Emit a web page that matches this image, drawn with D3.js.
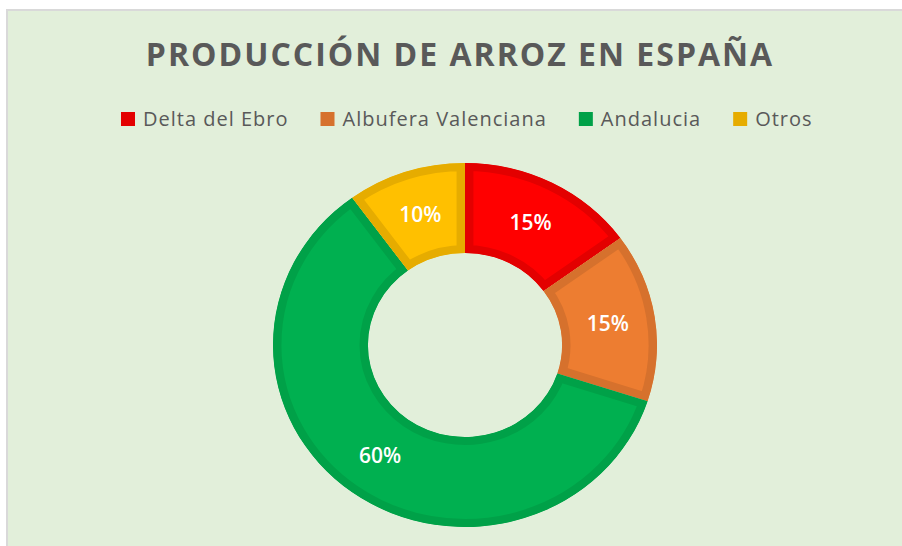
<!DOCTYPE html>
<html>
<head>
    <meta charset="utf-8">
    <title>Producción de arroz en España</title>
    <script src="https://d3js.org/d3.v7.min.js"></script>
    <style>
        body { margin: 0; background: #fff; }
        svg text { font-family: "Open Sans", "DejaVu Sans", sans-serif; }
    </style>
</head>
<body>
    <svg id="chart" width="902" height="546"></svg>
    <script>
        // Data
        var regions = ["Delta del Ebro", "Albufera Valenciana", "Andalucia", "Otros"];
        var shares = [15, 15, 60, 10];
        var fills = ["#FF0000", "#ED7D31", "#00B050", "#FFC000"];
        var borders = ["#E30000", "#D6712D", "#00A148", "#E6AC00"];

        var width = 902, height = 546;
        var cx = 465, cy = 345;
        var outerR = 182, innerR = 92;
        var stretch = 1.055; // picture is a bit wider than tall

        var svg = d3.select("#chart");

        // chart area + thin border top/left
        svg.append("rect")
            .attr("x", 7).attr("y", 10)
            .attr("width", width).attr("height", height)
            .attr("fill", "#E2EFDA")
            .attr("stroke", "#D9D9D9")
            .attr("stroke-width", 2);

        // Title
        svg.append("text")
            .attr("x", 460).attr("y", 66)
            .attr("text-anchor", "middle")
            .style("font-size", "32px")
            .style("font-weight", "bold")
            .style("letter-spacing", "2px")
            .attr("fill", "#595959")
            .text("PRODUCCIÓN DE ARROZ EN ESPAÑA");

        // Legend
        var legend = svg.append("g");
        var lx = 121;
        regions.forEach(function (name, i) {
            var item = legend.append("g").attr("transform", "translate(" + lx + ",0)");
            item.append("rect")
                .attr("x", 0).attr("y", 112)
                .attr("width", 14).attr("height", 14)
                .attr("fill", borders[i]);
            var t = item.append("text")
                .attr("x", 22).attr("y", 126)
                .style("font-size", "20px")
                .style("letter-spacing", "1px")
                .attr("fill", "#595959")
                .text(name);
            lx += 22 + t.node().getComputedTextLength() + 32;
        });

        // Donut
        var pie = d3.pie().sort(null).value(function (d) { return d; });
        var arcs = pie(shares);
        var arc = d3.arc().innerRadius(innerR).outerRadius(outerR);

        var g = svg.append("g")
            .attr("transform", "translate(" + cx + "," + cy + ") scale(" + stretch + ",1)");

        var defs = svg.append("defs");
        arcs.forEach(function (a, i) {
            defs.append("clipPath").attr("id", "clip" + i)
                .append("path").attr("d", arc(a));
        });

        g.selectAll("path.slice")
            .data(arcs)
            .enter()
            .append("path")
            .attr("class", "slice")
            .attr("d", arc)
            .attr("clip-path", function (d, i) { return "url(#clip" + i + ")"; })
            .attr("fill", function (d, i) { return fills[i]; })
            .attr("stroke", function (d, i) { return borders[i]; })
            .attr("stroke-width", 16)
            .attr("stroke-linejoin", "miter");

        // Labels (not stretched)
        svg.append("g")
            .selectAll("text")
            .data(arcs)
            .enter()
            .append("text")
            .attr("x", function (d) { return cx + arc.centroid(d)[0] * stretch; })
            .attr("y", function (d) { return cy + arc.centroid(d)[1]; })
            .attr("dy", "0.35em")
            .attr("text-anchor", "middle")
            .style("font-size", "21px")
            .style("font-weight", "600")
            .attr("fill", "#FFFFFF")
            .text(function (d) { return d.data + "%"; });
    </script>
</body>
</html>
